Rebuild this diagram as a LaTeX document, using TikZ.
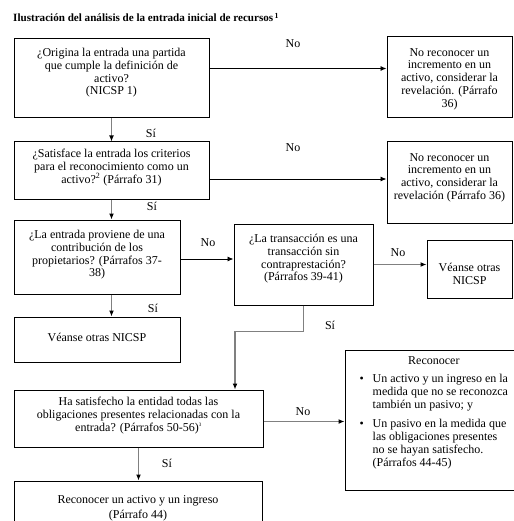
\documentclass[tikz,border=0pt]{standalone}
\usepackage{fontspec}
\setmainfont{Liberation Serif}
\usetikzlibrary{positioning, arrows.meta}

\begin{document}
\begin{tikzpicture}[x=1pt, y=-1pt,
    every node/.style={font=\fontsize{12}{12.8}\selectfont},
    frame/.style={rectangle, draw, line width=1pt, inner sep=0pt},
    txt/.style={align=center, inner sep=0pt},
    lbl/.style={inner sep=0pt},
    arrow/.style={-{Latex[length=6pt, width=5pt]}, line width=0.9pt},
    garrow/.style={-{Latex[length=6pt, width=5pt, black]}, draw=gray, line width=1.3pt},
]
\useasboundingbox (0,0) rectangle (513,521);

% Title
\node[anchor=base west, inner sep=0pt, font=\fontsize{11.1}{13}\selectfont\bfseries] (title) at (13,22)
  {Ilustración del análisis de la entrada inicial de recursos\textsuperscript{\,1}};

% Row 1
\node[frame, minimum width=195pt, minimum height=79pt] (q1) at (111.5,78.5) {};
\node[txt, below=9.5pt of q1.north] (q1t)
  {¿Origina la entrada una partida\\que cumple la definición de\\activo?\\(NICSP 1)};
\node[frame, minimum width=125pt, minimum height=81pt] (r1) at (449.5,77.5) {};
\node[txt, below=11.5pt of r1.north] (r1t)
  {No reconocer un\\incremento en un\\activo, considerar la\\revelación. (Párrafo\\36)};

% Row 2
\node[frame, minimum width=195pt, minimum height=58pt] (q2) at (111.5,171) {};
\node[txt, below=7.5pt of q2.north] (q2t)
  {¿Satisface la entrada los criterios\\para el reconocimiento como un\\activo?\textsuperscript{2} (Párrafo 31)};
\node[frame, minimum width=125pt, minimum height=81pt] (r2) at (449.5,182.5) {};
\node[txt, below=11.5pt of r2.north] (r2t)
  {No reconocer un\\incremento en un\\activo, considerar la\\revelación (Párrafo 36)};

% Row 3
\node[frame, minimum width=166pt, minimum height=74pt] (q3) at (97,257) {};
\node[txt, below=10.5pt of q3.north] (q3t)
  {¿La entrada proviene de una\\contribución de los\\propietarios? (Párrafos 37-\\38)};
\node[frame, minimum width=139pt, minimum height=81pt] (q4) at (303.5,264.5) {};
\node[txt, below=10.5pt of q4.north] (q4t)
  {¿La transacción es una\\transacción sin\\contraprestación?\\(Párrafos 39-41)};
\node[frame, minimum width=85pt, minimum height=58pt] (r4) at (469.5,269) {};
\node[txt, below=23.5pt of r4.north] (r4t) {Véanse otras\\NICSP};
\node[frame, minimum width=166pt, minimum height=45pt] (r3) at (97,339.5) {};
\node[txt, below=16.5pt of r3.north] (r3t) {Véanse otras NICSP};

% Row 4
\node[frame, minimum width=249pt, minimum height=57pt] (q5) at (138.5,418.5) {};
\node[txt, below=7.5pt of q5.north] (q5t)
  {Ha satisfecho la entidad todas las\\obligaciones presentes relacionadas con la\\entrada? (Párrafos 50-56)\textsuperscript{\tiny 3}};
\node[frame, minimum width=180pt, minimum height=140pt] (r5) at (435,420) {};
\node[txt, below right=6pt and 15pt of r5.north west] (r5t)
  {\begin{tabular}{@{}p{13pt}@{}l@{}}
   \multicolumn{2}{c}{Reconocer}\\[5pt]
   \textbullet & Un activo y un ingreso en la\\
               & medida que no se reconozca\\
               & también un pasivo; y\\[7pt]
   \textbullet & Un pasivo en la medida que\\
               & las obligaciones presentes\\
               & no se hayan satisfecho.\\
               & (Párrafos 44-45)
   \end{tabular}};
\node[frame, minimum width=248pt, minimum height=59pt] (r6) at (138,510.5) {};
\node[txt, below=14.5pt of r6.north] (r6t) {Reconocer un activo y un ingreso\\[3pt](Párrafo 44)};

% Connectors
\coordinate (n1) at ([yshift=10pt]q1.east);
\coordinate (n2) at ([yshift=-8pt]q2.east);
\coordinate (n3) at ([yshift=-2pt]q3.east);
\coordinate (n5) at ([yshift=-3pt]q5.east);
\draw[arrow] (n1) -- (n1 -| r1.west);
\draw[arrow] (n2) -- (n2 -| r2.west);
\draw[arrow] (n3) -- (n3 -| q4.west);
\draw[garrow] (q4.east) -- (q4.east -| r4.west);
\draw[garrow] (n5) -- (n5 -| r5.west);
\draw[garrow] (q1.south) -- (q2.north);
\draw[garrow] (q2.south) -- (q2.south |- q3.north);
\draw[garrow] (q3.south -| q2.south) -- (r3.north -| q2.south);
\draw[garrow] (q4.south) -- ++(0,26) -| ([xshift=96.5pt]q5.north);
\draw[garrow] (q5.south) -- (q5.south |- r6.north);

% Labels
\node[lbl] (no1) at (293,44) {No};
\node[lbl] (no2) at (293,148) {No};
\node[lbl] (no3) at (208,243) {No};
\node[lbl] (no4) at (398,253) {No};
\node[lbl] (no5) at (303,412) {No};
\node[lbl] (si1) at (151,133) {Sí};
\node[lbl] (si2) at (152,206) {Sí};
\node[lbl] (si3) at (153,308) {Sí};
\node[lbl] (si4) at (330,325) {Sí};
\node[lbl] (si5) at (167,463) {Sí};
\end{tikzpicture}
\end{document}
